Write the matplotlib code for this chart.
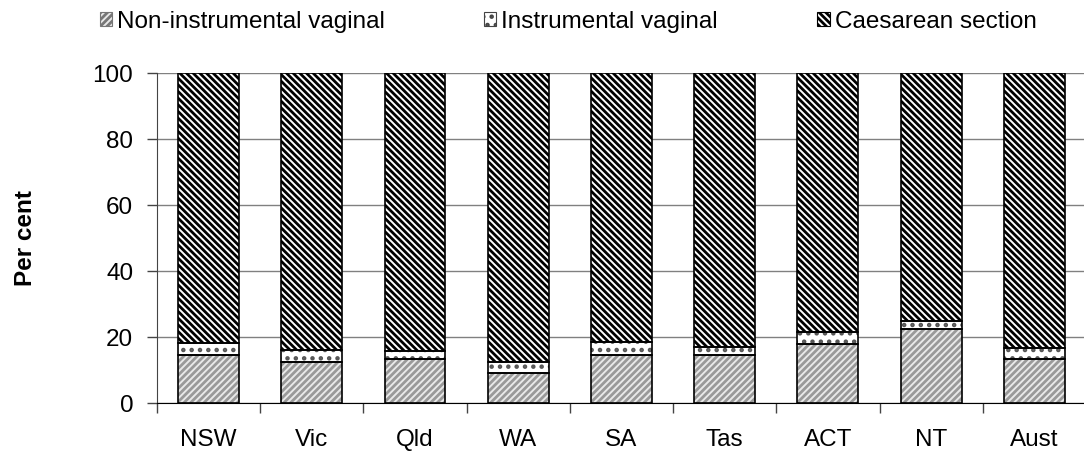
import matplotlib.pyplot as plt
import matplotlib.patches as mpatches
import numpy as np

plt.rcParams['font.family'] = ['Liberation Sans', 'DejaVu Sans']
plt.rcParams['hatch.linewidth'] = 2.0

states = ["NSW", "Vic", "Qld", "WA", "SA", "Tas", "ACT", "NT", "Aust"]
non_instr = [14.5, 12.3, 13.3, 9.0, 14.5, 14.5, 17.8, 22.4, 13.2]
instr = [3.6, 3.9, 2.5, 3.3, 3.9, 2.4, 3.8, 2.5, 3.4]
caesar = [100 - a - b for a, b in zip(non_instr, instr)]
labels = ["Non-instrumental vaginal", "Instrumental vaginal", "Caesarean section"]

x = np.arange(len(states))
w = 0.59
fs = 17.5

fig = plt.figure(figsize=(10.84, 4.54), dpi=100)
ax = fig.add_axes([0.1448, 0.1123, 0.857, 0.7267])

# hatch colour comes from edgecolor, so the outlines get drawn separately
ax.bar(x, non_instr, w, color="#e8e8e8", edgecolor="#999999", hatch="/////", linewidth=0)
ax.bar(x, instr, w, bottom=non_instr, color="white", edgecolor="#555555", hatch="..", linewidth=0)
bottom2 = [a + b for a, b in zip(non_instr, instr)]
ax.bar(x, caesar, w, bottom=bottom2, color="white", edgecolor="black", hatch="\\\\\\\\\\", linewidth=0)
for vals, bot in [(non_instr, None), (instr, non_instr), (caesar, bottom2)]:
    ax.bar(x, vals, w, bottom=bot, fill=False, edgecolor="black", linewidth=1.2)

ax.set_xlim(-0.5, 8.5)
ax.set_ylim(0, 100)
ax.set_yticks([0, 20, 40, 60, 80, 100])
ax.yaxis.grid(True, color="#808080", linewidth=1)
ax.set_axisbelow(True)
ax.set_xticks(x)
ax.set_xticklabels(states)
ax.set_xticks(np.arange(-0.5, 8.6, 1), minor=True)
ax.tick_params(axis="x", which="major", length=0, pad=19, labelsize=fs)
ax.tick_params(axis="x", which="minor", length=7, width=1, color="#444444")
ax.tick_params(axis="y", length=7, width=1, color="#444444", labelsize=fs, pad=10)
for s in ["top", "right"]:
    ax.spines[s].set_visible(False)
ax.spines["left"].set_color("#444444")
ax.spines["bottom"].set_color("black")
ax.set_ylabel("Per cent", fontsize=fs, fontweight="bold", labelpad=40)

handles = [
    mpatches.Patch(facecolor="#e8e8e8", edgecolor="#777777", hatch="/////", linewidth=0.8),
    mpatches.Patch(facecolor="white", edgecolor="#444444", hatch="..", linewidth=0.8),
    mpatches.Patch(facecolor="white", edgecolor="black", hatch="\\\\\\\\\\", linewidth=0.8),
]
fig.legend(handles, labels, loc="upper center", bbox_to_anchor=(0.524, 1.025), ncol=3,
           frameon=False, fontsize=fs, handlelength=0.5, handleheight=0.5,
           handletextpad=0.2, columnspacing=4.1)

plt.savefig("out.png", dpi=100)
